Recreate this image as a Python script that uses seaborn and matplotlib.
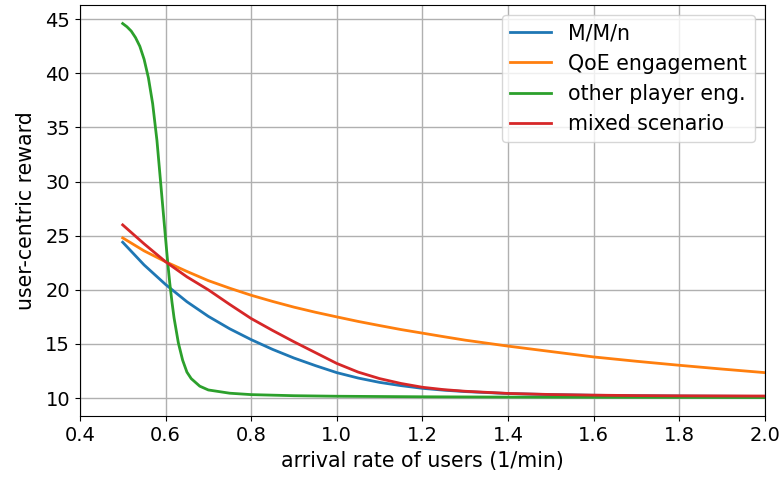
import matplotlib
matplotlib.use("Agg")
import matplotlib.pyplot as plt
import pandas as pd
import seaborn as sns

# arrival rate (1/min)
rate = [0.50, 0.55, 0.60, 0.65, 0.70, 0.75, 0.80, 0.85, 0.90, 0.95, 1.00, 1.05,
        1.10, 1.15, 1.20, 1.25, 1.30, 1.40, 1.50, 1.60, 1.70, 1.80, 1.90, 2.00]

mmn = [24.4, 22.3, 20.5, 18.9, 17.55, 16.4, 15.4, 14.5, 13.7, 13.0, 12.35, 11.85,
       11.45, 11.15, 10.9, 10.73, 10.6, 10.42, 10.32, 10.26, 10.22, 10.19, 10.17, 10.15]
qoe = [24.8, 23.6, 22.6, 21.7, 20.85, 20.15, 19.5, 18.93, 18.4, 17.93, 17.5, 17.08,
       16.7, 16.33, 16.0, 15.67, 15.35, 14.8, 14.3, 13.8, 13.4, 13.03, 12.68, 12.35]
mixed = [26.0, 24.25, 22.6, 21.2, 20.0, 18.65, 17.35, 16.25, 15.2, 14.2, 13.2, 12.4,
         11.8, 11.35, 11.0, 10.78, 10.63, 10.43, 10.33, 10.27, 10.23, 10.21, 10.2, 10.19]

# the steep curve is sampled more finely
rate_other = [0.500, 0.510, 0.520, 0.530, 0.540, 0.550, 0.560, 0.570, 0.580, 0.590,
              0.600, 0.605, 0.610, 0.615, 0.620, 0.630, 0.640, 0.650, 0.660, 0.680,
              0.700, 0.750, 0.800, 0.900, 1.000, 1.200, 1.400, 1.600, 1.800, 2.000]
other = [44.6, 44.3, 43.9, 43.3, 42.5, 41.3, 39.6, 37.2, 33.8, 29.3,
         24.8, 22.6, 20.6, 18.9, 17.4, 15.1, 13.5, 12.4, 11.8, 11.1,
         10.75, 10.45, 10.32, 10.22, 10.17, 10.12, 10.09, 10.07, 10.06, 10.05]

names = ["M/M/n", "QoE engagement", "other player eng.", "mixed scenario"]
xs = [rate, rate, rate_other, rate]
series = [mmn, qoe, other, mixed]

frames = []
for name, x, vals in zip(names, xs, series):
    frames.append(pd.DataFrame({"rate": x, "reward": vals, "scenario": name}))
df = pd.concat(frames, ignore_index=True)

plt.rcParams["font.family"] = ["DejaVu Sans"]

fig, ax = plt.subplots(figsize=(7.83, 4.84), dpi=100)
sns.lineplot(data=df, x="rate", y="reward", hue="scenario", hue_order=names,
             palette=["#1f77b4", "#ff7f0e", "#2ca02c", "#d62728"],
             linewidth=2, ax=ax)

ax.grid(True, color="#b0b0b0", linewidth=1)
ax.set_axisbelow(True)
ax.set_xlim(0.4, 2.0)
ax.set_xlabel("arrival rate of users (1/min)", fontsize=14.8)
ax.set_ylabel("user-centric reward", fontsize=14.8, labelpad=7)
ax.tick_params(labelsize=14)

handles, labels = ax.get_legend_handles_labels()
ax.legend(handles, labels, loc="upper right", fontsize=14.8)

fig.subplots_adjust(left=0.102, right=0.977, top=0.99, bottom=0.14)
fig.savefig("out.png", dpi=100)
